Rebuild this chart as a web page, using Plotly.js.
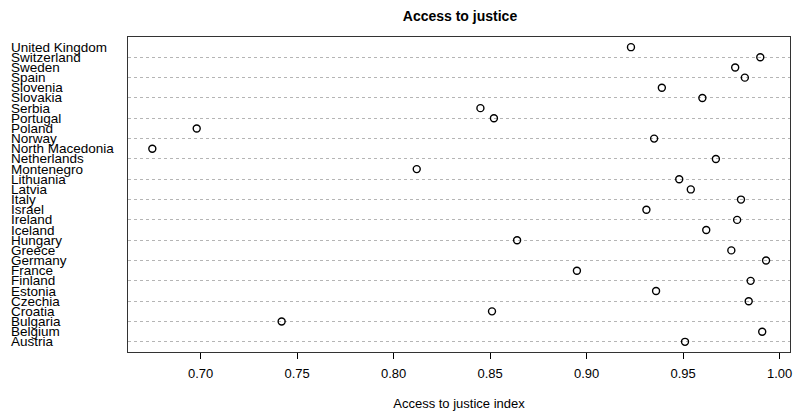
<!DOCTYPE html>
<html>
<head>
<meta charset="utf-8">
<script src="https://cdn.plot.ly/plotly-3.0.1.min.js"></script>
<style>html,body{margin:0;padding:0;background:#fff;}#chart{width:795px;height:411px;}</style>
</head>
<body>
<div id="chart"></div>
<script>
// Countries listed bottom (Austria) to top (United Kingdom)
var countries = ["Austria","Belgium","Bulgaria","Croatia","Czechia","Estonia","Finland","France","Germany","Greece","Hungary","Iceland","Ireland","Israel","Italy","Latvia","Lithuania","Montenegro","Netherlands","North Macedonia","Norway","Poland","Portugal","Serbia","Slovakia","Slovenia","Spain","Sweden","Switzerland","United Kingdom"];
var accessIndex = [0.951,0.991,0.742,0.851,0.984,0.936,0.985,0.895,0.993,0.975,0.864,0.962,0.978,0.931,0.980,0.954,0.948,0.812,0.967,0.675,0.935,0.698,0.852,0.845,0.960,0.939,0.982,0.977,0.990,0.923];
var xTickVals = [0.70,0.75,0.80,0.85,0.90,0.95,1.00];
var xTickText = ["0.70","0.75","0.80","0.85","0.90","0.95","1.00"];

var FONT = "Liberation Sans, Arial, Helvetica, sans-serif";

var trace = {
  type: "scatter",
  mode: "markers",
  x: accessIndex,
  y: countries,
  marker: {symbol: "circle-open", size: 7, color: "#000", line: {width: 1.4, color: "#000"}},
  hoverinfo: "x+y",
  cliponaxis: false
};

var labels = countries.map(function(c){
  return {text: c, xref: "paper", x: -0.1798, xanchor: "left", yref: "y", y: c, yanchor: "middle",
          showarrow: false, font: {family: FONT, size: 13.5, color: "#000"}};
});

var layout = {
  width: 795, height: 411,
  margin: {l: 128, r: 5, t: 37, b: 59},
  paper_bgcolor: "#fff", plot_bgcolor: "#fff",
  showlegend: false,
  font: {family: FONT, color: "#000"},
  title: {text: "<b>Access to justice</b>", font: {family: FONT, size: 14, color: "#000"},
          x: 0.5786, xanchor: "center", y: 0.96, yanchor: "middle"},
  xaxis: {
    range: [0.6624, 1.0054], tickvals: xTickVals, ticktext: xTickText,
    ticks: "outside", ticklen: 6, tickwidth: 1, tickcolor: "#000",
    ticklabelstandoff: 3,
    tickfont: {family: FONT, size: 13, color: "#000"},
    showgrid: false, zeroline: false,
    showline: true, linecolor: "#333", linewidth: 1.3, mirror: true,
    title: {text: "Access to justice index", font: {family: FONT, size: 13, color: "#000"}, standoff: 19},
    automargin: false
  },
  yaxis: {
    type: "category", categoryorder: "array", categoryarray: countries,
    range: [-1, 30], showticklabels: false, ticks: "",
    showgrid: true, gridcolor: "#b5b5b5", gridwidth: 1, griddash: "3px,3px",
    zeroline: false,
    showline: true, linecolor: "#333", linewidth: 1.3, mirror: true,
    automargin: false
  },
  annotations: labels
};

Plotly.newPlot("chart", [trace], layout, {displayModeBar: false, staticPlot: true});
</script>
</body>
</html>
